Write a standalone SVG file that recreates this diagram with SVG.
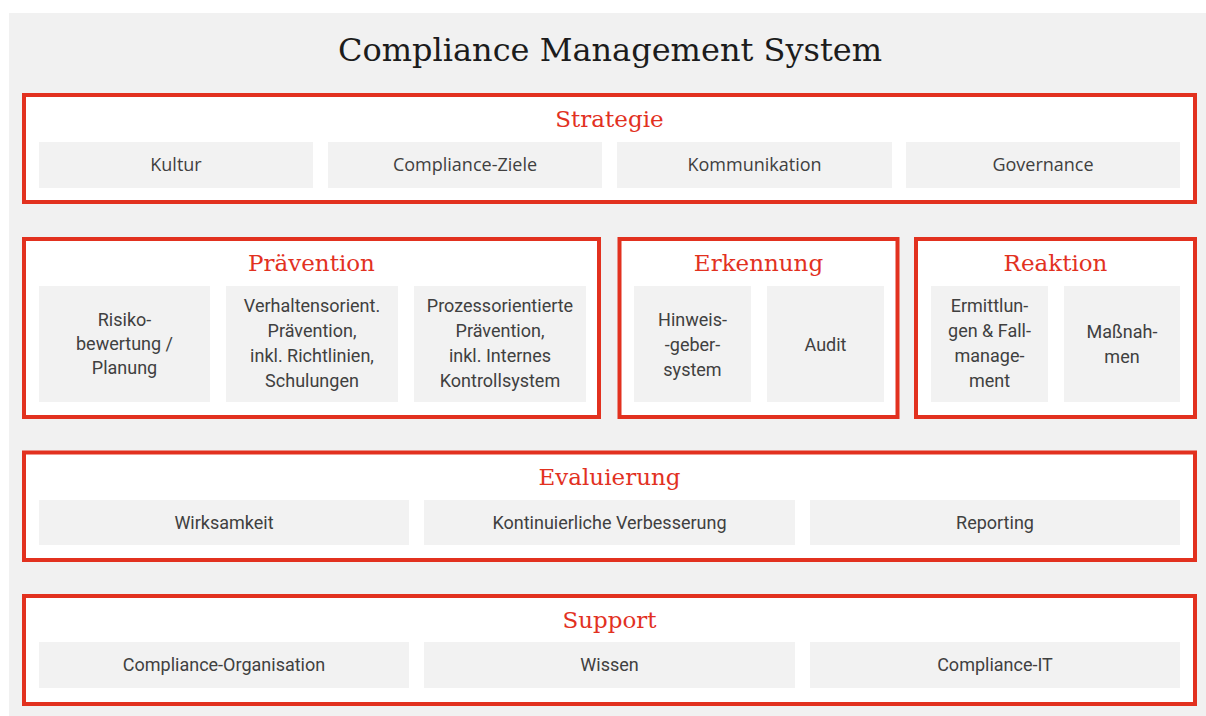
<svg xmlns="http://www.w3.org/2000/svg" width="1206" height="716" viewBox="0 0 1206 716">
<defs>
<style>
.frame{fill:#ffffff;stroke:#e2311f;stroke-width:4}
.box{fill:#f2f2f2}
.head{font-family:"DejaVu Serif","Liberation Serif",serif;font-size:23px;fill:#e2311f;text-anchor:middle}
.title{font-family:"DejaVu Serif","Liberation Serif",serif;font-size:32px;fill:#1c1c1c;text-anchor:middle}
.lbl{font-family:"Open Sans","Liberation Sans",sans-serif;font-size:18px;fill:#404040;text-anchor:middle}
.lbl2{font-family:Roboto,"Liberation Sans",sans-serif;font-size:18px;fill:#404040;text-anchor:middle}
</style>
</defs>
<rect x="0" y="0" width="1206" height="716" fill="#ffffff"/>
<rect x="9" y="13" width="1197" height="703" fill="#f1f1f1"/>
<text class="title" x="610" y="61">Compliance Management System</text>

<g id="strategie">
<rect class="frame" x="24" y="95" width="1171" height="107"/>
<text class="head" x="609.5" y="127">Strategie</text>
<g id="kultur"><rect class="box" x="39" y="142" width="274" height="46"/><text class="lbl" x="176" y="171">Kultur</text></g>
<g id="compliance-ziele"><rect class="box" x="328" y="142" width="274" height="46"/><text class="lbl" x="465" y="171">Compliance-Ziele</text></g>
<g id="kommunikation"><rect class="box" x="617" y="142" width="275" height="46"/><text class="lbl" x="754.5" y="171">Kommunikation</text></g>
<g id="governance"><rect class="box" x="906" y="142" width="274" height="46"/><text class="lbl" x="1043" y="171">Governance</text></g>
</g>

<g id="praevention">
<rect class="frame" x="24" y="239" width="575" height="178"/>
<text class="head" x="311.5" y="271">Prävention</text>
<g id="risiko"><rect class="box" x="39" y="286" width="171" height="116"/>
<text class="lbl2" x="124.5" y="326">Risiko-</text><text class="lbl2" x="124.5" y="350">bewertung /</text><text class="lbl2" x="124.5" y="374">Planung</text></g>
<g id="verhalten"><rect class="box" x="226" y="286" width="172" height="116"/>
<text class="lbl2" x="312" y="312">Verhaltensorient.</text><text class="lbl2" x="312" y="337">Prävention,</text><text class="lbl2" x="312" y="362">inkl. Richtlinien,</text><text class="lbl2" x="312" y="387">Schulungen</text></g>
<g id="prozess"><rect class="box" x="414" y="286" width="172" height="116"/>
<text class="lbl2" x="500" y="312">Prozessorientierte</text><text class="lbl2" x="500" y="337">Prävention,</text><text class="lbl2" x="500" y="362">inkl. Internes</text><text class="lbl2" x="500" y="387">Kontrollsystem</text></g>
</g>

<g id="erkennung">
<rect class="frame" x="619.5" y="239" width="278" height="178"/>
<text class="head" x="758.5" y="271">Erkennung</text>
<g id="hinweis"><rect class="box" x="634" y="286" width="117" height="116"/>
<text class="lbl2" x="692.5" y="326">Hinweis-</text><text class="lbl2" x="692.5" y="351">-geber-</text><text class="lbl2" x="692.5" y="376">system</text></g>
<g id="audit"><rect class="box" x="767" y="286" width="117" height="116"/>
<text class="lbl2" x="825.5" y="351">Audit</text></g>
</g>

<g id="reaktion">
<rect class="frame" x="916" y="239" width="279" height="178"/>
<text class="head" x="1055.5" y="271">Reaktion</text>
<g id="ermittlungen"><rect class="box" x="931" y="286" width="117" height="116"/>
<text class="lbl2" x="989.5" y="312">Ermittlun-</text><text class="lbl2" x="989.5" y="337">gen &amp; Fall-</text><text class="lbl2" x="989.5" y="362">manage-</text><text class="lbl2" x="989.5" y="387">ment</text></g>
<g id="massnahmen"><rect class="box" x="1064" y="286" width="116" height="116"/>
<text class="lbl2" x="1122" y="338">Maßnah-</text><text class="lbl2" x="1122" y="363">men</text></g>
</g>

<g id="evaluierung">
<rect class="frame" x="24" y="452.5" width="1171" height="107.5"/>
<text class="head" x="609.5" y="485">Evaluierung</text>
<g id="wirksamkeit"><rect class="box" x="39" y="500" width="370" height="45"/><text class="lbl2" x="224" y="529">Wirksamkeit</text></g>
<g id="verbesserung"><rect class="box" x="424" y="500" width="371" height="45"/><text class="lbl2" x="609.5" y="529">Kontinuierliche Verbesserung</text></g>
<g id="reporting"><rect class="box" x="810" y="500" width="370" height="45"/><text class="lbl2" x="995" y="529">Reporting</text></g>
</g>

<g id="support">
<rect class="frame" x="24" y="596" width="1171" height="108"/>
<text class="head" x="609.5" y="628">Support</text>
<g id="organisation"><rect class="box" x="39" y="642" width="370" height="46"/><text class="lbl2" x="224" y="671">Compliance-Organisation</text></g>
<g id="wissen"><rect class="box" x="424" y="642" width="371" height="46"/><text class="lbl2" x="609.5" y="671">Wissen</text></g>
<g id="compliance-it"><rect class="box" x="810" y="642" width="370" height="46"/><text class="lbl2" x="995" y="671">Compliance-IT</text></g>
</g>

<g id="connectors"></g>
</svg>
